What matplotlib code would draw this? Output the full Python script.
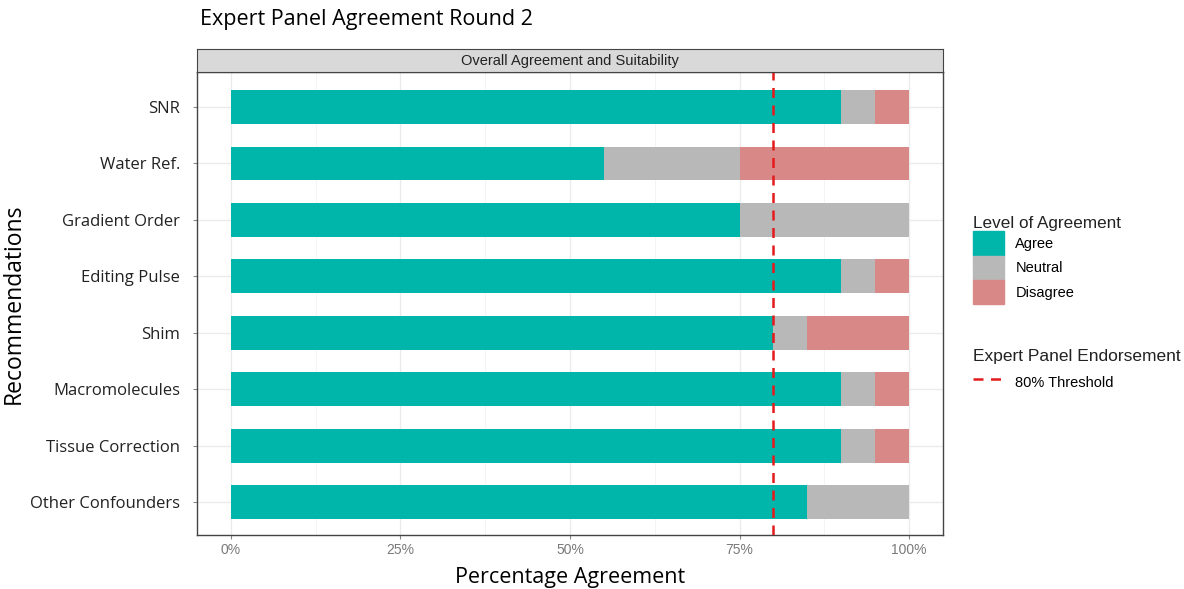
import numpy as np
import matplotlib.pyplot as plt
from matplotlib.patches import Patch
from matplotlib.lines import Line2D

recs = ["SNR", "Water Ref.", "Gradient Order", "Editing Pulse", "Shim",
        "Macromolecules", "Tissue Correction", "Other Confounders"]
agree = [90, 55, 75, 90, 80, 90, 90, 85]
neutral = [5, 20, 25, 5, 5, 5, 5, 15]
disagree = [5, 25, 0, 5, 15, 5, 5, 0]
threshold = 80

col_agree = "#00B5AA"
col_neutral = "#B8B8B8"
col_disagree = "#D98888"

fig = plt.figure(figsize=(11.84, 5.89), dpi=100)
ax = fig.add_axes([197 / 1184, 1 - 535 / 589, (943 - 197) / 1184, (535 - 72) / 589])

y = np.arange(len(recs))[::-1] + 1
agree = np.array(agree)
neutral = np.array(neutral)
disagree = np.array(disagree)
h = 0.6
ax.barh(y, agree, height=h, color=col_agree, zorder=2)
ax.barh(y, neutral, left=agree, height=h, color=col_neutral, zorder=2)
ax.barh(y, disagree, left=agree + neutral, height=h, color=col_disagree, zorder=2)
ax.axvline(threshold, color="#E41A1C", ls=(0, (4, 3)), lw=1.8, zorder=3)

ax.set_xlim(-5, 105)
ax.set_ylim(0.42, len(recs) + 0.62)
ax.set_xticks([0, 25, 50, 75, 100])
ax.set_xticklabels(["0%", "25%", "50%", "75%", "100%"], fontsize=10,
                   color="#7A7A7A", family="Liberation Sans")
ax.set_xticks([12.5, 37.5, 62.5, 87.5], minor=True)
ax.set_yticks(y)
ax.set_yticklabels(recs, fontsize=12, family="Open Sans", color="#222222")
ax.grid(True, which="major", color="#EBEBEB", lw=1, zorder=0)
ax.grid(True, which="minor", axis="x", color="#F3F3F3", lw=0.6, zorder=0)
ax.tick_params(axis="both", which="major", length=3, color="#888888")
ax.tick_params(axis="y", pad=9)
ax.tick_params(axis="x", pad=3)
ax.tick_params(axis="x", which="minor", length=0)
for s in ax.spines.values():
    s.set_color("#444444")
    s.set_linewidth(1)
ax.set_xlabel("Percentage Agreement", fontsize=15.5, family="Open Sans", va="center")
ax.xaxis.set_label_coords(0.5, (535 - 577) / 463)
ax.set_ylabel("Recommendations", fontsize=16.5, family="Open Sans", labelpad=3)

# facet strip
strip = fig.add_axes([197 / 1184, 1 - 72 / 589, (943 - 197) / 1184, 23 / 589])
strip.set_xticks([])
strip.set_yticks([])
strip.set_facecolor("#D9D9D9")
for s in strip.spines.values():
    s.set_color("#444444")
strip.text(0.5, 0.5, "Overall Agreement and Suitability", ha="center", va="center",
           fontsize=10.5, family="Liberation Sans", color="#222222")

fig.text(200 / 1184, 1 - 20 / 589, "Expert Panel Agreement Round 2", fontsize=15.5,
         family="Open Sans", va="center", ha="left")

# legends
h1 = [Patch(color=col_agree), Patch(color=col_neutral), Patch(color=col_disagree)]
leg1 = fig.legend(h1, ["Agree", "Neutral", "Disagree"], title="Level of Agreement",
                  loc="upper left", bbox_to_anchor=(960 / 1184, 1 - 203 / 589),
                  frameon=False, title_fontsize=12.3,
                  handlelength=2.1, handleheight=2.2, labelspacing=0.0,
                  handletextpad=0.8, alignment="left",
                  prop={"family": "Liberation Sans", "size": 10.5})
leg1.get_title().set_family("Liberation Sans")
leg1.get_title().set_color("#222222")
h2 = [Line2D([0], [0], color="#E41A1C", ls=(0, (4, 3)), lw=1.8)]
leg2 = fig.legend(h2, ["80% Threshold"], title="Expert Panel Endorsement",
                  loc="upper left", bbox_to_anchor=(960 / 1184, 1 - 336 / 589),
                  frameon=False, title_fontsize=12.5, handlelength=2.1,
                  handleheight=2.0, handletextpad=0.8, alignment="left",
                  prop={"family": "Liberation Sans", "size": 10.5})
leg2.get_title().set_family("Liberation Sans")
leg2.get_title().set_color("#222222")

fig.savefig("out.png", dpi=100)
